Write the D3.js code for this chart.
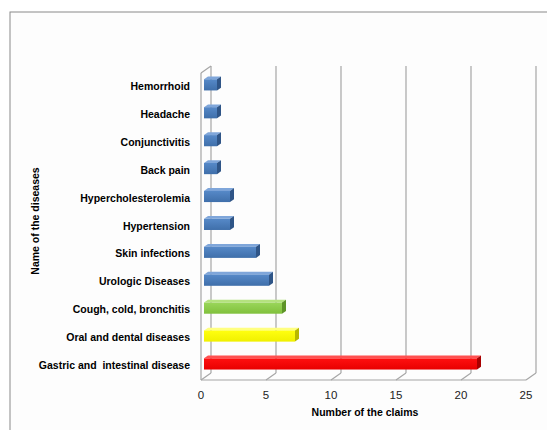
<!DOCTYPE html>
<html>
<head>
<meta charset="utf-8">
<script src="https://cdn.jsdelivr.net/npm/d3@7"></script>
<style>
  html, body { margin: 0; padding: 0; background: #ffffff; }
  svg { display: block; }
  text { font-family: "Liberation Sans", Arial, sans-serif; white-space: pre; }
</style>
</head>
<body>
<svg id="chart" width="547" height="430"></svg>
<script>
// Diseases, top to bottom, and the number of claims for each
const categories = [
  "Hemorrhoid", "Headache", "Conjunctivitis", "Back pain",
  "Hypercholesterolemia", "Hypertension", "Skin infections",
  "Urologic Diseases", "Cough, cold, bronchitis",
  "Oral and dental diseases", "Gastric and  intestinal disease"
];
const claims = [1, 1, 1, 1, 2, 2, 4, 5, 6, 7, 21];
const barColors = [
  "blue", "blue", "blue", "blue", "blue", "blue", "blue", "blue",
  "green", "yellow", "red"
];
const xTicks = [0, 5, 10, 15, 20, 25];

const palette = {
  blue:   { top: "#7FA6DA", front0: "#5689C8", front1: "#3F6FAA", side: "#2F5587" },
  green:  { top: "#B4E27E", front0: "#9AD65A", front1: "#80C03C", side: "#5E9428" },
  yellow: { top: "#FFFF80", front0: "#FFFF10", front1: "#F0F000", side: "#B8B800" },
  red:    { top: "#FF5050", front0: "#FF1010", front1: "#E80000", side: "#A80000" }
};

const svg = d3.select("#chart");

// Outer chart-area frame
svg.append("rect").attr("x", 10).attr("y", 12).attr("width", 560).attr("height", 440)
  .attr("fill", "#fdfdfd").attr("stroke", "#8a8a8a").attr("stroke-width", 1);

// Projection: front plane plus an oblique depth offset
const depthDX = 10, depthDY = -7;
const x = d3.scaleLinear().domain([0, 25]).range([201, 526]);
const y = d3.scaleBand().domain(categories).range([73, 380])
  .paddingInner(0.6).paddingOuter(0.3);
const plotTop = 73, plotBottom = 380;

const P = (xv, yv, z) => [xv + z * depthDX, yv + z * depthDY];
const grid = svg.append("g").attr("stroke", "#a6a6a6").attr("stroke-width", 1.2).attr("fill", "none");

// Back-wall gridlines
xTicks.forEach(t => {
  const a = P(x(t), plotBottom, 1), b = P(x(t), plotTop, 1);
  if (t > 0) grid.append("line").attr("x1", a[0]).attr("y1", a[1]).attr("x2", b[0]).attr("y2", b[1]);
  // floor diagonals
  const f = P(x(t), plotBottom, 0);
  grid.append("line").attr("x1", f[0]).attr("y1", f[1]).attr("x2", a[0]).attr("y2", a[1]);
});
// Floor front edge
grid.append("line").attr("x1", x(0)).attr("y1", plotBottom).attr("x2", x(25)).attr("y2", plotBottom);
// Left wall: back edge, front edge and top
{
  const bb = P(x(0), plotBottom, 1), bt = P(x(0), plotTop, 1);
  grid.append("line").attr("x1", bb[0]).attr("y1", bb[1]).attr("x2", bt[0]).attr("y2", bt[1]);
  grid.append("line").attr("x1", x(0)).attr("y1", plotBottom).attr("x2", x(0)).attr("y2", plotTop);
  grid.append("line").attr("x1", x(0)).attr("y1", plotTop).attr("x2", bt[0]).attr("y2", bt[1]);
}

// Gradients for the front faces
const defs = svg.append("defs");
Object.entries(palette).forEach(([k, c]) => {
  const g = defs.append("linearGradient").attr("id", "g-" + k)
    .attr("x1", 0).attr("y1", 0).attr("x2", 0).attr("y2", 1);
  g.append("stop").attr("offset", "0%").attr("stop-color", c.front0);
  g.append("stop").attr("offset", "100%").attr("stop-color", c.front1);
});

// 3D bars
const z0 = 0.3, z1 = 0.7;
const bars = svg.append("g");
categories.forEach((cat, i) => {
  const c = palette[barColors[i]];
  const x0 = x(0), x1 = x(claims[i]);
  const yt = y(cat), yb = y(cat) + y.bandwidth();
  const fTL = P(x0, yt, z0), fTR = P(x1, yt, z0), fBR = P(x1, yb, z0);
  const bTL = P(x0, yt, z1), bTR = P(x1, yt, z1), bBR = P(x1, yb, z1);
  const g = bars.append("g");
  g.append("polygon").attr("points", [fTL, bTL, bTR, fTR].join(" ")).attr("fill", c.top);
  g.append("polygon").attr("points", [fTR, bTR, bBR, fBR].join(" ")).attr("fill", c.side);
  g.append("rect").attr("x", fTL[0]).attr("y", fTL[1])
    .attr("width", fTR[0] - fTL[0]).attr("height", fBR[1] - fTR[1])
    .attr("fill", `url(#g-${barColors[i]})`);
});

// Category labels
svg.append("g").selectAll("text").data(categories).join("text")
  .attr("x", 190).attr("y", d => y(d) + y.bandwidth() / 2 - 1)
  .attr("text-anchor", "end").attr("dominant-baseline", "central")
  .attr("font-size", 10.5).attr("font-weight", "bold").attr("fill", "#000")
  .text(d => d);

// Value tick labels
svg.append("g").selectAll("text").data(xTicks).join("text")
  .attr("x", d => x(d)).attr("y", 399)
  .attr("text-anchor", "middle").attr("font-size", 11.5).attr("fill", "#222")
  .text(d => d);

// Axis titles
svg.append("text").attr("x", 365).attr("y", 416).attr("text-anchor", "middle")
  .attr("font-size", 10.5).attr("font-weight", "bold").attr("fill", "#000")
  .text("Number of the claims");
svg.append("text").attr("transform", "translate(39,221) rotate(-90)")
  .attr("text-anchor", "middle").attr("font-size", 10.5).attr("font-weight", "bold").attr("fill", "#000")
  .text("Name of the diseases");
</script>
</body>
</html>
